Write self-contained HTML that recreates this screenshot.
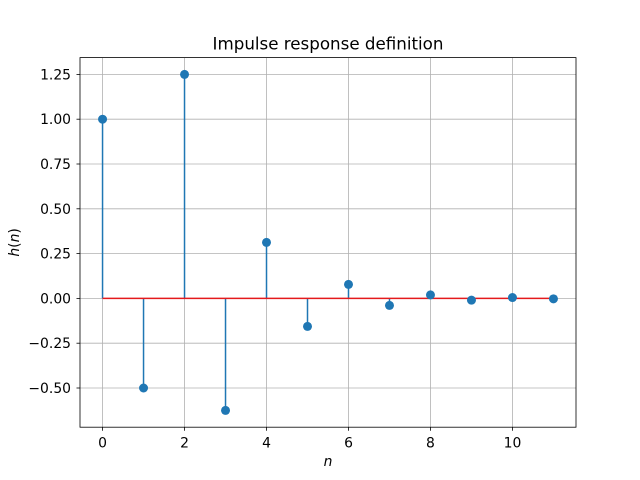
<!DOCTYPE html>
<html><head><meta charset="utf-8"><style>body{margin:0;background:#fff}svg{display:block;font-family:"DejaVu Sans","Liberation Sans",sans-serif}</style></head>
<body>
<svg id="c" width="640" height="480"></svg>
<script>
const nValues=[0,1,2,3,4,5,6,7,8,9,10,11];
const hValues=[1,-0.5,1.25,-0.625,0.3125,-0.15625,0.078125,-0.0390625,0.01953125,-0.009765625,0.0048828125,-0.00244140625];
const xTicks=[0,2,4,6,8,10];
const yTicks=[-0.5,-0.25,0,0.25,0.5,0.75,1.0,1.25];
const L=80,R=576,T=57.6,B=427.2;
const xmin=-0.55,xmax=11.55,ymin=-0.71875,ymax=1.34375;
const X=v=>L+(v-xmin)/(xmax-xmin)*(R-L);
const Y=v=>B-(v-ymin)/(ymax-ymin)*(B-T);
const svg=document.getElementById('c');const NS='http://www.w3.org/2000/svg';
function mk(t,a,p){const e=document.createElementNS(NS,t);for(const k in a)e.setAttribute(k,a[k]);(p||svg).appendChild(e);return e;}
const grid=mk('g',{});


xTicks.forEach(v=>{mk('line',{x1:X(v),x2:X(v),y1:T,y2:B,stroke:'#b0b0b0','stroke-width':0.8},grid);
 mk('line',{x1:X(v),x2:X(v),y1:B,y2:B+3.5,stroke:'#000','stroke-width':0.8});
 const t=mk('text',{x:X(v),y:B+20.5,'text-anchor':'middle','font-size':13.9});t.textContent=v;
 
 });
yTicks.forEach(v=>{mk('line',{x1:L-3.5,x2:L,y1:Y(v),y2:Y(v),stroke:'#000','stroke-width':0.8});
 mk('line',{x1:L,x2:R,y1:Y(v),y2:Y(v),stroke:'#b0b0b0','stroke-width':0.8},grid);
 const t=mk('text',{x:L-9,y:Y(v)+5,'text-anchor':'end','font-size':13.9});t.textContent=v.toFixed(2).replace('-','\u2212');
 
 });
nValues.forEach((n,i)=>{const s=mk('line',{x1:X(n),x2:X(n),y1:Y(0),y2:Y(hValues[i]),stroke:'#1f77b4','stroke-width':1.5});
 
 });
const base=mk('line',{x1:X(nValues[0]),x2:X(nValues[nValues.length-1]),y1:Y(0),y2:Y(0),stroke:'#e41a1c','stroke-width':1.5});


nValues.forEach((n,i)=>{const c=mk('circle',{cx:X(n),cy:Y(hValues[i]),r:4.5,fill:'#1f77b4'});
 
 });
const fr=mk('rect',{x:L,y:T,width:R-L,height:B-T,fill:'none',stroke:'#000','stroke-width':0.8});


const ti=mk('text',{x:(L+R)/2,y:T-8,'text-anchor':'middle','font-size':16.7});ti.textContent='Impulse response definition';


const xl=mk('text',{x:(L+R)/2,y:466,'text-anchor':'middle','font-size':13.9,'font-style':'italic'});xl.textContent='n';


const yl=mk('text',{x:0,y:0,'text-anchor':'middle','font-size':13.9,transform:'translate(19,'+((T+B)/2)+') rotate(-90)'});
yl.innerHTML='<tspan font-style="italic">h</tspan>(<tspan font-style="italic">n</tspan>)';


</script>
</body></html>
